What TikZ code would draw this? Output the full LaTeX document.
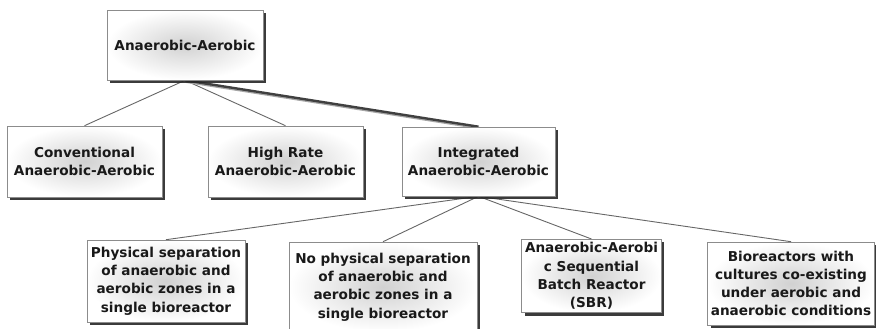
\documentclass[tikz,border=0pt]{standalone}
\usepackage{fontspec}
\setmainfont{DejaVu Sans}
\usetikzlibrary{shadows,backgrounds}
\tikzset{
  box/.style={draw=black!45, line width=0.6pt, rectangle, align=center,
    font=\fontsize{13.6}{18.2}\selectfont\bfseries, text=black!90,
    inner color=black!18, outer color=white,
    drop shadow={shadow xshift=3pt, shadow yshift=-3pt, fill=black!85, opacity=0.9}},
  link/.style={draw=black!60, line width=0.9pt},
  thicklink/.style={draw=black!75, line width=2.4pt},
}
\begin{document}
\begin{tikzpicture}[x=1pt,y=-1pt]
\useasboundingbox (0,0) rectangle (876,329);
\node[box, minimum width=156pt, minimum height=70pt] (root) at (185,45) {Anaerobic-Aerobic};
\node[box, minimum width=155pt, minimum height=71pt] (conv) at (84.5,161.5) {Conventional\\Anaerobic-Aerobic};
\node[box, minimum width=155pt, minimum height=71pt] (high) at (285.5,161.5) {High Rate\\Anaerobic-Aerobic};
\node[box, minimum width=153pt, minimum height=69pt] (integ) at (478.5,161.5) {Integrated\\Anaerobic-Aerobic};
\node[box, minimum width=158pt, minimum height=82pt] (phys) at (166,281) {Physical separation\\of anaerobic and\\aerobic zones in a\\single bioreactor};
\node[box, minimum width=188pt, minimum height=90pt] (nophys) at (383,287) {No physical separation\\of anaerobic and\\aerobic zones in a\\single bioreactor};
\node[box, minimum width=137pt, minimum height=72pt] (sbr) at (591.5,276) {Anaerobic-Aerobi\\c Sequential\\Batch Reactor\\(SBR)};
\node[box, minimum width=164pt, minimum height=83pt] (bio) at (791,283.5) {Bioreactors with\\cultures co-existing\\under aerobic and\\anaerobic conditions};
\begin{pgfonlayer}{background}
\draw[link] (root.south) -- (conv.north);
\draw[link] (root.south) -- (high.north);
\draw[draw=black!35, line width=2.4pt] ([xshift=1.5pt,yshift=-1.5pt]root.south) -- ([xshift=1.5pt,yshift=-1.5pt]integ.north);
\draw[thicklink] (root.south) -- (integ.north);
\draw[link] (integ.south) -- (phys.north);
\draw[link] (integ.south) -- (nophys.north);
\draw[link] (integ.south) -- (sbr.north);
\draw[link] (integ.south) -- (bio.north);
\end{pgfonlayer}
\end{tikzpicture}
\end{document}
